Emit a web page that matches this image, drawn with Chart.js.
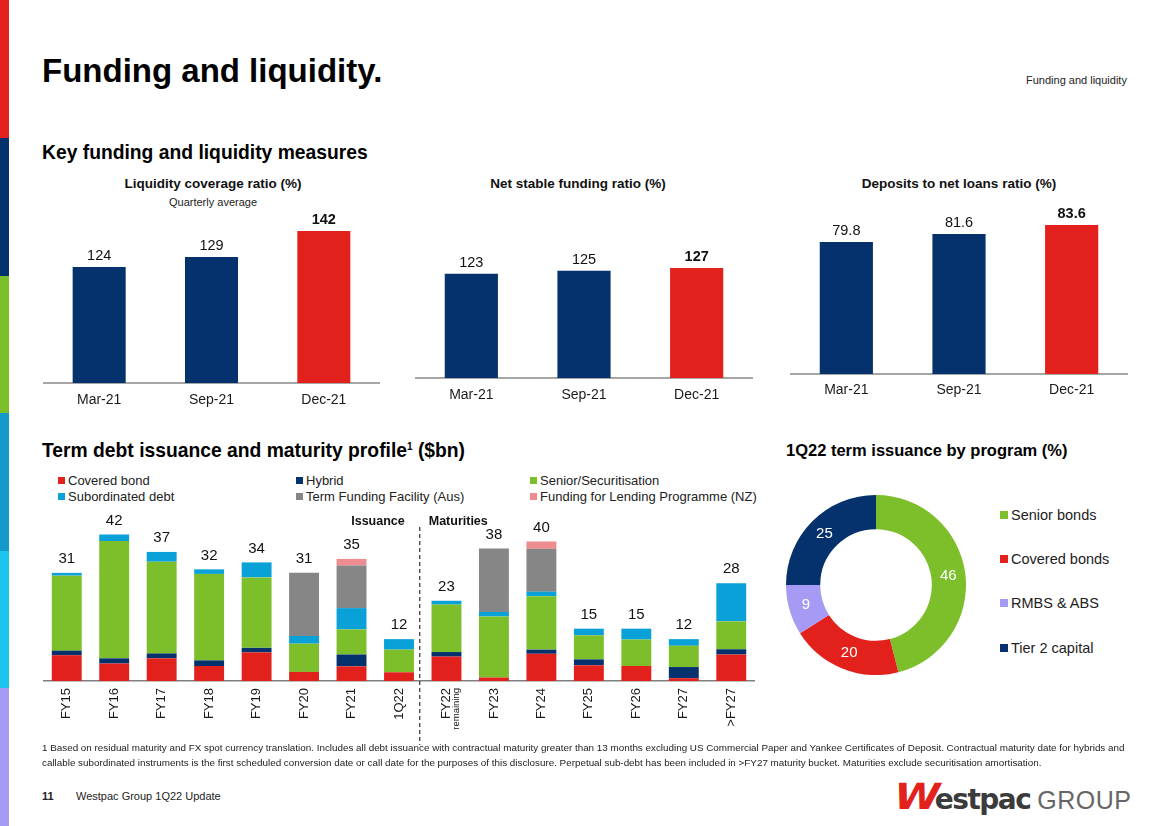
<!DOCTYPE html>
<html>
<head>
<meta charset="utf-8">
<script src="https://cdn.jsdelivr.net/npm/chart.js@4.4.1/dist/chart.umd.min.js"></script>
<style>
  body { margin: 0; width: 1169px; height: 826px; position: relative; overflow: hidden; background: #fff;
         font-family: 'Liberation Sans', Arial, sans-serif; color: #111; }
  .abs { position: absolute; white-space: nowrap; }
  .strip { position: absolute; left: 0; width: 9px; }
  .box { position: absolute; }
  .sq { display: inline-block; width: 7px; height: 7px; margin-right: 3px; vertical-align: 1px; }
  .lg { position: absolute; font-size: 13px; color: #222; white-space: nowrap; }
  .dl { position: absolute; font-size: 14.5px; color: #222; white-space: nowrap; }
  .dl .sq { width: 8px; height: 8px; margin-right: 3px; }
</style>
</head>
<body>

<!-- colour strip down the left edge -->
<div class="strip" style="top:0;height:138px;background:#e2211c"></div>
<div class="strip" style="top:138px;height:138px;background:#05316d"></div>
<div class="strip" style="top:276px;height:137px;background:#7cbf2a"></div>
<div class="strip" style="top:413px;height:138px;background:#1499cb"></div>
<div class="strip" style="top:551px;height:137px;background:#1cc4ee"></div>
<div class="strip" style="top:688px;height:138px;background:#a59bf5"></div>

<div class="abs" style="left:42px;top:52px;font-size:33px;font-weight:bold;color:#000">Funding and liquidity.</div>
<div class="abs" style="left:1026px;top:74px;font-size:11px;color:#222">Funding and liquidity</div>

<div class="abs" style="left:42px;top:142px;font-size:19.3px;font-weight:bold;color:#000">Key funding and liquidity measures</div>

<div class="abs" style="left:43px;width:340px;top:176px;text-align:center;font-size:13.5px;font-weight:bold">Liquidity coverage ratio (%)</div>
<div class="abs" style="left:43px;width:340px;top:196px;text-align:center;font-size:11px;color:#222">Quarterly average</div>
<div class="abs" style="left:415px;width:326px;top:176px;text-align:center;font-size:13.5px;font-weight:bold">Net stable funding ratio (%)</div>
<div class="abs" style="left:790px;width:338px;top:176px;text-align:center;font-size:13.5px;font-weight:bold">Deposits to net loans ratio (%)</div>

<div class="box" style="left:43px;top:200px;width:337px;height:213px"><canvas id="lcr"></canvas></div>
<div class="box" style="left:415px;top:220px;width:338px;height:188px"><canvas id="nsfr"></canvas></div>
<div class="box" style="left:790px;top:195px;width:338px;height:209px"><canvas id="deposits"></canvas></div>

<div class="abs" style="left:42px;top:440px;font-size:19.3px;font-weight:bold;color:#000">Term debt issuance and maturity profile<sup style="font-size:10px">1</sup> ($bn)</div>
<div class="abs" style="left:786px;top:441px;font-size:16.5px;font-weight:bold;color:#000">1Q22 term issuance by program (%)</div>

<!-- legend of the profile chart -->
<div class="lg" style="left:58px;top:473px"><span class="sq" style="background:#e2211c"></span>Covered bond</div>
<div class="lg" style="left:296px;top:473px"><span class="sq" style="background:#05316d"></span>Hybrid</div>
<div class="lg" style="left:530px;top:473px"><span class="sq" style="background:#7cbf2a"></span>Senior/Securitisation</div>
<div class="lg" style="left:58px;top:489px"><span class="sq" style="background:#0aa0d8"></span>Subordinated debt</div>
<div class="lg" style="left:296px;top:489px"><span class="sq" style="background:#868686"></span>Term Funding Facility (Aus)</div>
<div class="lg" style="left:530px;top:489px"><span class="sq" style="background:#ee8c90"></span>Funding for Lending Programme (NZ)</div>

<div class="box" style="left:43px;top:505px;width:712px;height:246px"><canvas id="profile"></canvas></div>

<div class="box" style="left:786px;top:495px;width:180px;height:180px"><canvas id="program"></canvas></div>

<div class="dl" style="left:1000px;top:507px"><span class="sq" style="background:#7cbf2a"></span>Senior bonds</div>
<div class="dl" style="left:1000px;top:551px"><span class="sq" style="background:#e2211c"></span>Covered bonds</div>
<div class="dl" style="left:1000px;top:595px"><span class="sq" style="background:#a59bf5"></span>RMBS &amp; ABS</div>
<div class="dl" style="left:1000px;top:640px"><span class="sq" style="background:#05316d"></span>Tier 2 capital</div>

<div class="abs" style="left:42px;top:740px;font-size:9.85px;line-height:15px;color:#222">1 Based on residual maturity and FX spot currency translation. Includes all debt issuance with contractual maturity greater than 13 months excluding US Commercial Paper and Yankee Certificates of Deposit. Contractual maturity date for hybrids and<br>callable subordinated instruments is the first scheduled conversion date or call date for the purposes of this disclosure. Perpetual sub-debt has been included in &gt;FY27 maturity bucket. Maturities exclude securitisation amortisation.</div>

<div class="abs" style="left:42px;top:790px;font-size:11px;font-weight:bold;color:#222">11</div>
<div class="abs" style="left:76px;top:790px;font-size:11px;color:#222">Westpac Group 1Q22 Update</div>

<!-- logo -->
<div class="abs" style="left:897px;top:779px;height:36px;line-height:36px">
  <span style="display:inline-block;font-family:'DejaVu Sans';font-weight:bold;font-size:36px;color:#e2211c;transform:skewX(-14deg) scaleX(1.15);letter-spacing:-3px">W</span><span style="font-family:'DejaVu Sans';font-weight:bold;font-size:28px;color:#3b3b3b;letter-spacing:-1.5px;margin-left:1px">estpac</span><span style="font-family:'Liberation Sans';font-size:25px;color:#666;margin-left:7px;letter-spacing:0.5px">GROUP</span>
</div>

<script>
// Key measures
const topCategories = ['Mar-21', 'Sep-21', 'Dec-21'];
const lcrValues = [124, 129, 142];
const nsfrValues = [123, 125, 127];
const depositValues = [79.8, 81.6, 83.6];

// Term debt issuance and maturity profile ($bn)
const profileCategories = ['FY15', 'FY16', 'FY17', 'FY18', 'FY19', 'FY20', 'FY21', '1Q22',
  'FY22', 'FY23', 'FY24', 'FY25', 'FY26', 'FY27', '>FY27'];
const coveredBond = [7.4, 5.0, 6.5, 4.3, 8.2, 2.6, 4.2, 2.5, 7.0, 1.0, 7.8, 4.5, 4.3, 0.8, 7.6];
const hybrid = [1.3, 1.5, 1.4, 1.6, 1.3, 0, 3.4, 0, 1.3, 0, 1.2, 1.7, 0, 3.2, 1.5];
const seniorSecuritisation = [21.5, 33.6, 26.3, 24.8, 20.2, 8.1, 7.2, 6.5, 13.6, 17.5, 15.3, 6.9, 7.6, 6.1, 8.0];
const subordinatedDebt = [0.8, 1.9, 2.8, 1.3, 4.3, 2.2, 6.1, 3.0, 1.1, 1.3, 1.3, 1.9, 3.1, 1.9, 10.9];
const termFundingFacility = [0, 0, 0, 0, 0, 18.1, 12.2, 0, 0, 18.2, 12.3, 0, 0, 0, 0];
const fundingForLending = [0, 0, 0, 0, 0, 0, 1.9, 0, 0, 0, 2.1, 0, 0, 0, 0];
const profileTotals = [31, 42, 37, 32, 34, 31, 35, 12, 23, 38, 40, 15, 15, 12, 28];

// 1Q22 term issuance by program (%)
const programCategories = ['Senior bonds', 'Covered bonds', 'RMBS & ABS', 'Tier 2 capital'];
const programShares = [46, 20, 9, 25];

const RED = '#e2211c', NAVY = '#05316d', GREEN = '#7cbf2a', BLUE = '#0aa0d8',
      GREY = '#868686', PINK = '#ee8c90', LAVENDER = '#a59bf5';
const FONT = "'Liberation Sans', Arial, sans-serif";

Chart.defaults.font.family = FONT;
Chart.defaults.color = '#1a1a1a';
Chart.defaults.animation = false;

// writes the value above each bar (the last one in bold)
function barLabels(texts, tops, offset, size) {
  return {
    id: 'barLabels',
    afterDatasetsDraw(chart) {
      const ctx = chart.ctx;
      const meta = chart.getDatasetMeta(0);
      ctx.save();
      ctx.fillStyle = '#111';
      ctx.textAlign = 'center';
      ctx.textBaseline = 'middle';
      texts.forEach((t, i) => {
        const y = chart.scales.y.getPixelForValue(tops[i]);
        ctx.font = (i == texts.length - 1 && tops.length == 3 ? 'bold ' : '') + size + 'px ' + FONT;
        ctx.fillText(t, meta.data[i].x, y - offset);
      });
      ctx.restore();
    }
  };
}

function ratioChart(id, values, texts, min, max, pad, tickPad) {
  new Chart(document.getElementById(id), {
    type: 'bar',
    data: {
      labels: topCategories,
      datasets: [{
        data: values,
        backgroundColor: [NAVY, NAVY, RED],
        categoryPercentage: 1,
        barPercentage: 0.472
      }]
    },
    options: {
      responsive: true,
      maintainAspectRatio: false,
      layout: { padding: { top: pad, left: 0, right: 0, bottom: 0 } },
      plugins: { legend: { display: false }, tooltip: { enabled: false } },
      scales: {
        x: {
          grid: { display: false, drawTicks: false },
          border: { display: true, color: '#a6a6a6', width: 2 },
          ticks: { padding: tickPad, font: { size: 14 }, color: '#1a1a1a' },
          afterFit(scale) { scale.height = 30; }
        },
        y: { display: false, min: min, max: max }
      }
    },
    plugins: [barLabels(texts, values, 11, 14.5)]
  });
}

ratioChart('lcr', lcrValues, lcrValues.map(String), 66, 151, 13, 9);
ratioChart('nsfr', nsfrValues, nsfrValues.map(String), 50, 148, 18, 9);
ratioChart('deposits', depositValues, depositValues.map(v => v.toFixed(1)), 50, 87, 15, 8);

// dashed divider, Issuance / Maturities captions and the small "remaining"
const profileExtras = {
  id: 'profileExtras',
  afterDraw(chart) {
    const ctx = chart.ctx;
    const x = chart.scales.x;
    const divX = (x.getPixelForValue(7) + x.getPixelForValue(8)) / 2;
    ctx.save();
    ctx.strokeStyle = '#333';
    ctx.lineWidth = 1.2;
    ctx.setLineDash([4, 3]);
    ctx.beginPath();
    ctx.moveTo(divX - 3, 527 - 505);
    ctx.lineTo(divX - 3, 745 - 505);
    ctx.stroke();
    ctx.setLineDash([]);
    ctx.fillStyle = '#111';
    ctx.font = 'bold 12.5px ' + FONT;
    ctx.textBaseline = 'middle';
    ctx.textAlign = 'right';
    ctx.fillText('Issuance', divX - 18, 522 - 505);
    ctx.textAlign = 'left';
    ctx.fillText('Maturities', divX + 6, 522 - 505);
    // "remaining" under FY22
    const fx = x.getPixelForValue(8) + 10;
    ctx.translate(fx, chart.chartArea.bottom + 7);
    ctx.rotate(-Math.PI / 2);
    ctx.font = '9.5px ' + FONT;
    ctx.textAlign = 'right';
    ctx.fillText('remaining', 0, 0);
    ctx.restore();
  }
};

const stackTops = profileCategories.map((c, i) =>
  coveredBond[i] + hybrid[i] + seniorSecuritisation[i] + subordinatedDebt[i] + termFundingFacility[i] + fundingForLending[i]);

new Chart(document.getElementById('profile'), {
  type: 'bar',
  data: {
    labels: profileCategories,
    datasets: [
      { label: 'Covered bond', data: coveredBond, backgroundColor: RED },
      { label: 'Hybrid', data: hybrid, backgroundColor: NAVY },
      { label: 'Senior/Securitisation', data: seniorSecuritisation, backgroundColor: GREEN },
      { label: 'Subordinated debt', data: subordinatedDebt, backgroundColor: BLUE },
      { label: 'Term Funding Facility (Aus)', data: termFundingFacility, backgroundColor: GREY },
      { label: 'Funding for Lending Programme (NZ)', data: fundingForLending, backgroundColor: PINK }
    ].map(d => Object.assign(d, { categoryPercentage: 1, barPercentage: 0.63 }))
  },
  options: {
    responsive: true,
    maintainAspectRatio: false,
    layout: { padding: { top: 26, left: 0, right: 0, bottom: 0 } },
    plugins: { legend: { display: false }, tooltip: { enabled: false } },
    scales: {
      x: {
        stacked: true,
        grid: { display: false, drawTicks: false },
        border: { display: true, color: '#7f7f7f', width: 1.5 },
        ticks: { padding: 7, minRotation: 90, maxRotation: 90, font: { size: 13 }, color: '#1a1a1a', autoSkip: false },
        afterFit(scale) { scale.height = 70; }
      },
      y: { stacked: true, display: false, min: 0, max: 43 }
    }
  },
  plugins: [barLabels(profileTotals.map(String), stackTops, 14, 15), profileExtras]
});

// white figures inside the ring
const ringLabels = {
  id: 'ringLabels',
  afterDatasetsDraw(chart) {
    const ctx = chart.ctx;
    ctx.save();
    ctx.fillStyle = '#fff';
    ctx.font = '15px ' + FONT;
    ctx.textAlign = 'center';
    ctx.textBaseline = 'middle';
    chart.getDatasetMeta(0).data.forEach((arc, i) => {
      const p = arc.getCenterPoint();
      ctx.fillText(String(programShares[i]), p.x, p.y);
    });
    ctx.restore();
  }
};

new Chart(document.getElementById('program'), {
  type: 'doughnut',
  data: {
    labels: programCategories,
    datasets: [{
      data: programShares,
      backgroundColor: [GREEN, RED, LAVENDER, NAVY],
      borderWidth: 0
    }]
  },
  options: {
    responsive: true,
    maintainAspectRatio: false,
    cutout: '62%',
    plugins: { legend: { display: false }, tooltip: { enabled: false } }
  },
  plugins: [ringLabels]
});
</script>
</body>
</html>
